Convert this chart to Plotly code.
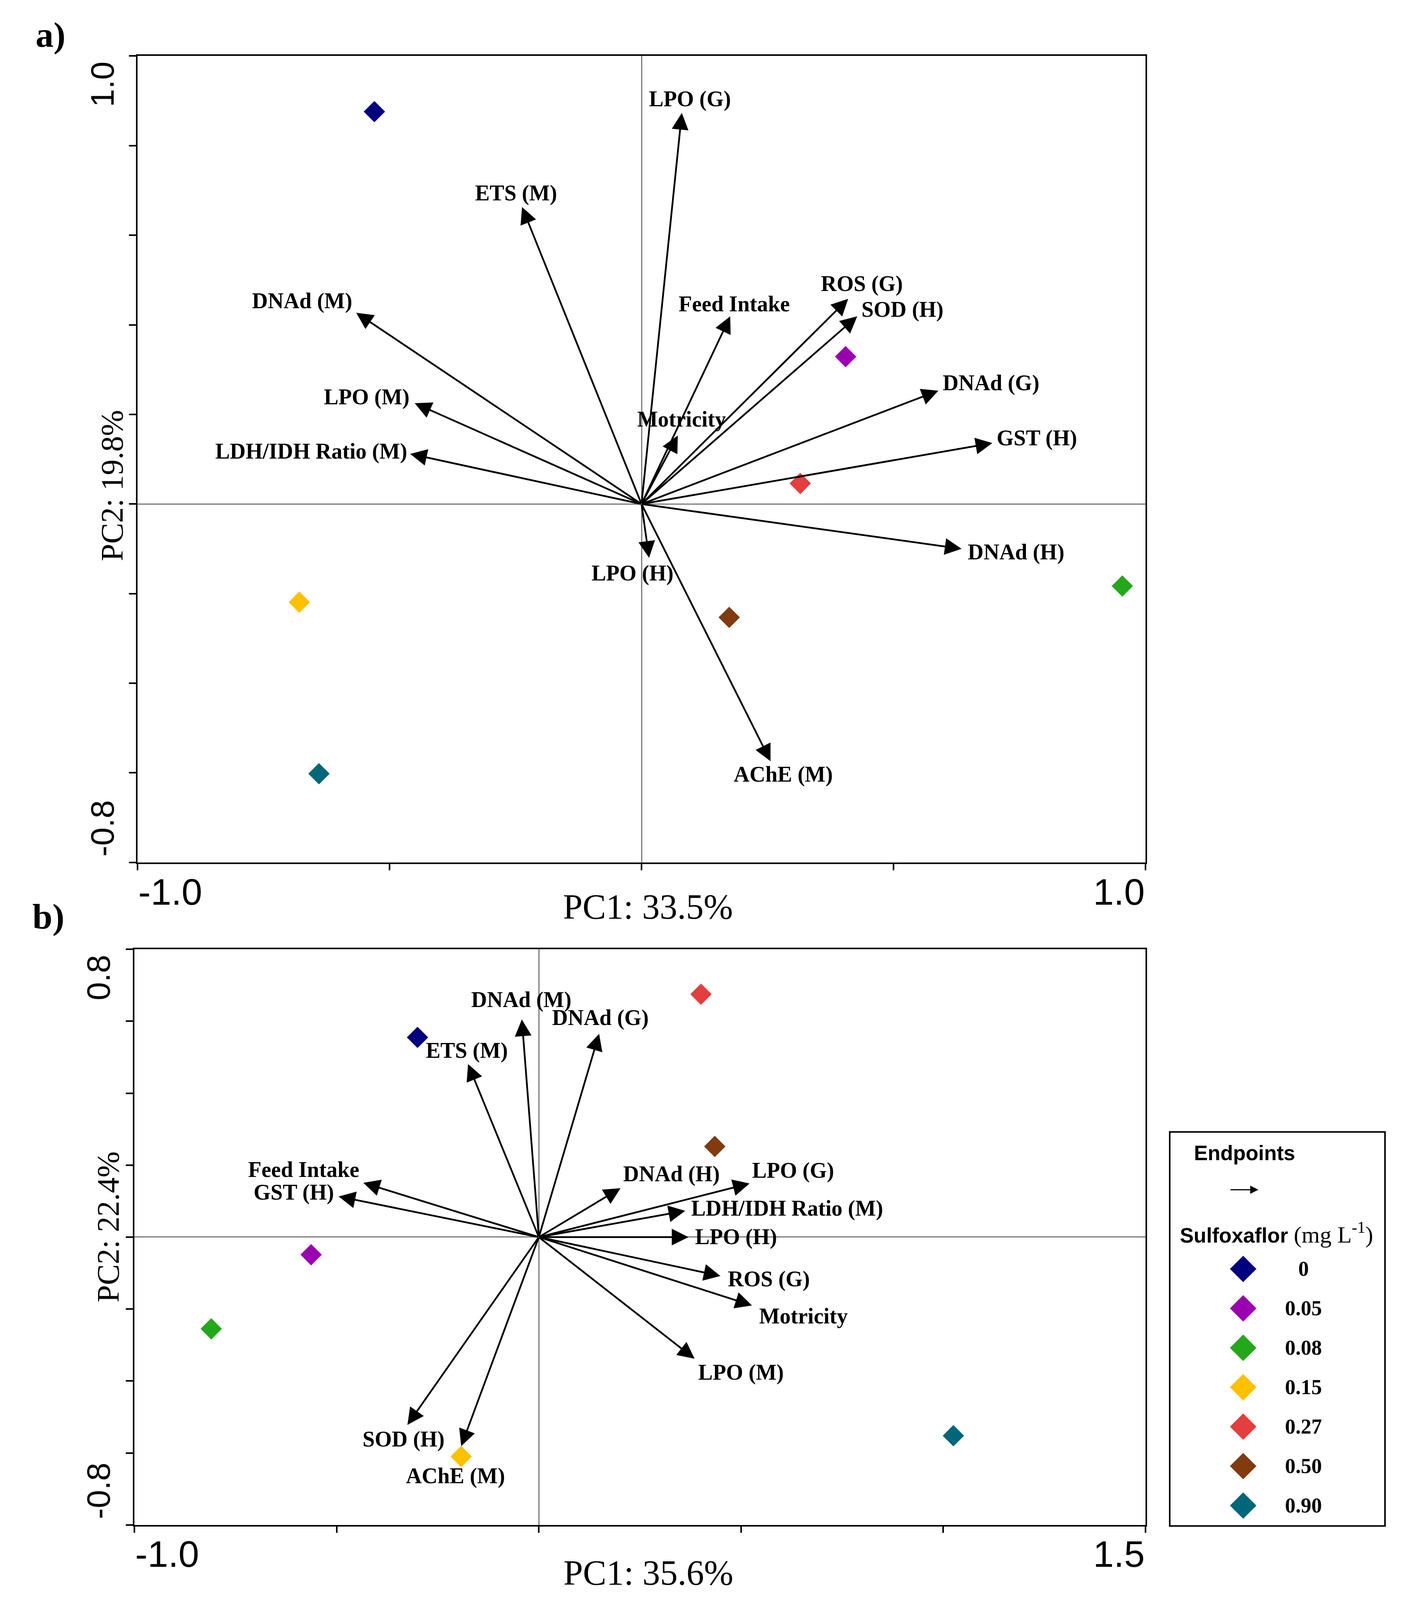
import plotly.graph_objects as go

# The page viewport is 3609 x 4096; the figure fills it.  Vertical positions measured on
# the 3609 x 4625 reference are scaled by S.
W, H = 3609, 4096
REF_H = 4625
S = H / REF_H

# ---------------- data ----------------
doses = ["0", "0.05", "0.08", "0.15", "0.27", "0.50", "0.90"]
dose_colors = ["#00007F", "#9A00B0", "#24A81B", "#FFC000", "#E43E3E", "#823A0F", "#006679"]

# Panel a: treatment scores (PC1, PC2)
a_pc1 = [-0.530, 0.405, 0.954, -0.679, 0.315, 0.174, -0.640]
a_pc2 = [0.876, 0.329, -0.183, -0.219, 0.046, -0.253, -0.602]

# Panel a: endpoint loadings
a_names = ["LPO (G)", "ETS (M)", "DNAd (M)", "LPO (M)", "LDH/IDH Ratio (M)", "Motricity",
           "Feed Intake", "ROS (G)", "SOD (H)", "DNAd (G)", "GST (H)", "DNAd (H)",
           "LPO (H)", "AChE (M)"]
a_load1 = [0.080, -0.237, -0.566, -0.450, -0.459, 0.072, 0.176, 0.410, 0.428, 0.589,
           0.696, 0.635, 0.015, 0.256]
a_load2 = [0.873, 0.663, 0.427, 0.225, 0.112, 0.153, 0.419, 0.458, 0.419, 0.253,
           0.136, -0.100, -0.120, -0.574]

# Panel b: treatment scores
b_pc1 = [-0.300, -0.563, -0.810, -0.192, 0.401, 0.435, 1.025]
b_pc2 = [0.555, -0.049, -0.255, -0.610, 0.675, 0.252, -0.552]

# Panel b: endpoint loadings
b_names = ["DNAd (M)", "DNAd (G)", "ETS (M)", "Feed Intake", "GST (H)", "SOD (H)",
           "AChE (M)", "DNAd (H)", "LPO (G)", "LDH/IDH Ratio (M)", "LPO (H)", "ROS (G)",
           "Motricity", "LPO (M)"]
b_load1 = [-0.042, 0.149, -0.175, -0.434, -0.495, -0.325, -0.192, 0.202, 0.521, 0.362,
           0.370, 0.449, 0.527, 0.385]
b_load2 = [0.605, 0.565, 0.481, 0.151, 0.113, -0.522, -0.581, 0.136, 0.149, 0.073,
           0.000, -0.108, -0.190, -0.338]

a_xtitle, a_ytitle = "PC1: 33.5%", "PC2: 19.8%"
b_xtitle, b_ytitle = "PC1: 35.6%", "PC2: 22.4%"

# ---------------- label placement (style) ----------------
# anchor, x-shift px, y-shift px (up positive, reference px), relative to the arrow tip
a_label_pos = {
    "LPO (G)": ("center", 21, 40),
    "ETS (M)": ("center", -15, 40),
    "DNAd (M)": ("right", -8, 34),
    "LPO (M)": ("right", -12, 18),
    "LDH/IDH Ratio (M)": ("right", -5, 7),
    "Motricity": ("center", 10, 47),
    "Feed Intake": ("center", 10, 36),
    "ROS (G)": ("center", 35, 43),
    "SOD (H)": ("left", 9, 19),
    "DNAd (G)": ("left", 9, 22),
    "GST (H)": ("left", 9, 15),
    "DNAd (H)": ("left", 14, -9),
    "LPO (H)": ("center", -42, -45),
    "AChE (M)": ("center", 33, -38),
}
b_label_pos = {
    "DNAd (M)": ("center", -1, 57),
    "DNAd (G)": ("center", 3, 46),
    "ETS (M)": ("center", -3, 39),
    "Feed Intake": ("right", -8, 38),
    "GST (H)": ("right", -10, 12),
    "SOD (H)": ("center", -10, -42),
    "AChE (M)": ("center", -14, -86),
    "DNAd (H)": ("left", 5, 41),
    "LPO (G)": ("left", 4, 38),
    "LDH/IDH Ratio (M)": ("left", 13, 7),
    "LPO (H)": ("left", 15, 0),
    "ROS (G)": ("left", 17, -9),
    "Motricity": ("left", 16, -30),
    "LPO (M)": ("left", 7, -40),
}

SERIF = "Liberation Serif"
SANS = "Liberation Sans"
LBL_FONT = dict(family=SERIF, size=56, color="black")

fig = go.Figure()

for xs, ys, xa, ya in [(a_pc1, a_pc2, "x", "y"), (b_pc1, b_pc2, "x2", "y2")]:
    fig.add_trace(go.Scatter(
        x=xs, y=ys, mode="markers", xaxis=xa, yaxis=ya, showlegend=False,
        marker=dict(symbol="diamond", size=42, color=dose_colors, line=dict(width=0)),
        text=doses, hoverinfo="text"))

annotations = []


def add_biplot(names, l1, l2, pos, xa, ya):
    for n, vx, vy in zip(names, l1, l2):
        annotations.append(dict(
            x=vx, y=vy, ax=0, ay=0, xref=xa, yref=ya, axref=xa, ayref=ya,
            text="", showarrow=True, arrowhead=2, arrowsize=1.9, arrowwidth=4.5,
            arrowcolor="black", standoff=0, startstandoff=0))
        anc, dx, dy = pos[n]
        annotations.append(dict(
            x=vx, y=vy, xref=xa, yref=ya, text="<b>%s</b>" % n, showarrow=False,
            xanchor=anc, yanchor="middle", xshift=dx, yshift=dy * S, font=LBL_FONT))


add_biplot(a_names, a_load1, a_load2, a_label_pos, "x", "y")
add_biplot(b_names, b_load1, b_load2, b_label_pos, "x2", "y2")

TICK_FONT = dict(family=SANS, size=95, color="black")
TICK_FONT_ROT = dict(family=SANS, size=round(95 * S), color="black")
TITLE_FONT = dict(family=SERIF, size=90, color="black")
TITLE_FONT_ROT = dict(family=SERIF, size=round(90 * S), color="black")


def axis_labels(xa, ya, xr, yr, xt, yt, xt_shift, xt_dy, yt_shift, ylab_dx, xlab_dy):
    # y end labels (rotated), aligned to the ends of the axis
    annotations.append(dict(x=xr[0], y=yr[1], xref=xa, yref=ya, text="%.1f" % yr[1],
                            showarrow=False, textangle=-90, xanchor="center", yanchor="top",
                            xshift=ylab_dx, yshift=-14 * S, font=TICK_FONT_ROT))
    annotations.append(dict(x=xr[0], y=yr[0], xref=xa, yref=ya, text="%.1f" % yr[0],
                            showarrow=False, textangle=-90, xanchor="center", yanchor="bottom",
                            xshift=ylab_dx, yshift=14 * S, font=TICK_FONT_ROT))
    # x end labels
    annotations.append(dict(x=xr[0], y=yr[0], xref=xa, yref=ya, text="%.1f" % xr[0],
                            showarrow=False, xanchor="left", yanchor="middle",
                            yshift=-xlab_dy * S, font=TICK_FONT))
    annotations.append(dict(x=xr[1], y=yr[0], xref=xa, yref=ya, text="%.1f" % xr[1],
                            showarrow=False, xanchor="right", yanchor="middle",
                            yshift=-xlab_dy * S, font=TICK_FONT))
    # axis titles
    annotations.append(dict(x=0, y=yr[0], xref=xa, yref=ya, text=xt, showarrow=False,
                            xanchor="center", yanchor="middle", xshift=xt_shift,
                            yshift=-xt_dy * S, font=TITLE_FONT))
    annotations.append(dict(x=xr[0], y=0, xref=xa, yref=ya, text=yt, showarrow=False,
                            textangle=-90, xanchor="center", yanchor="middle",
                            xshift=ylab_dx + 25, yshift=yt_shift * S, font=TITLE_FONT_ROT))


axis_labels("x", "y", [-1.0, 1.0], [-0.8, 1.0], a_xtitle, a_ytitle, 16, 128, 53, -90, 85)
axis_labels("x2", "y2", [-1.0, 1.5], [-0.8, 0.8], b_xtitle, b_ytitle, 280, 138, 29, -92, 84)

PANEL_FONT = dict(family=SERIF, size=92, color="black")
annotations.append(dict(x=129 / W, y=1 - 100 / REF_H, xref="paper", yref="paper",
                        text="<b>a)</b>", showarrow=False, xanchor="center",
                        yanchor="middle", font=PANEL_FONT))
annotations.append(dict(x=124 / W, y=1 - 2649 / REF_H, xref="paper", yref="paper",
                        text="<b>b)</b>", showarrow=False, xanchor="center",
                        yanchor="middle", font=PANEL_FONT))

# ---------------- custom legend (axes x3/y3, reference-px units inside the box) ----------
LEG_W, LEG_H = 551, 1139
row0, row_step = 396, 114
leg_rows = [row0 + i * row_step for i in range(len(doses))]
fig.add_trace(go.Scatter(
    x=[188] * len(doses), y=leg_rows, mode="markers", xaxis="x3", yaxis="y3",
    showlegend=False, hoverinfo="skip",
    marker=dict(symbol="diamond", size=52, color=dose_colors, line=dict(width=0))))
for d, ry in zip(doses, leg_rows):
    annotations.append(dict(x=342, y=ry, xref="x3", yref="y3", text="<b>%s</b>" % d,
                            showarrow=False, xanchor="center", yanchor="middle",
                            font=dict(family=SERIF, size=54, color="black")))
annotations.append(dict(x=191, y=61, xref="x3", yref="y3", text="<b>Endpoints</b>",
                        showarrow=False, xanchor="center", yanchor="middle",
                        font=dict(family=SANS, size=53, color="black")))
annotations.append(dict(x=227, y=167, ax=154, ay=167, xref="x3", yref="y3", axref="x3",
                        ayref="y3", text="", showarrow=True, arrowhead=2, arrowsize=1.4,
                        arrowwidth=3, arrowcolor="black", standoff=0, startstandoff=0))
annotations.append(dict(x=273, y=292, xref="x3", yref="y3",
                        text="<b>Sulfoxaflor</b> <span style=\"font-family:'Liberation Serif'; font-size:60px\">(mg L<sup>-1</sup>)</span>",
                        showarrow=False, xanchor="center", yanchor="middle",
                        font=dict(family=SANS, size=53, color="black")))

shapes = [dict(type="rect", xref="x3 domain", yref="y3 domain", x0=0, x1=1, y0=0, y1=1,
               line=dict(color="black", width=4), fillcolor="rgba(0,0,0,0)")]


def main_axis(domain, rng, dtick, anchor, ticklen):
    return dict(domain=domain, range=rng, anchor=anchor, tickmode="linear", tick0=rng[0],
                dtick=dtick, showticklabels=False, ticks="outside", ticklen=ticklen,
                tickwidth=4, tickcolor="black", showline=True, linecolor="black",
                linewidth=4, mirror=True, showgrid=False, zeroline=True,
                zerolinecolor="#7a7a7a", zerolinewidth=3, fixedrange=True)


fig.update_layout(
    width=W, height=H, margin=dict(l=0, r=0, t=0, b=0),
    paper_bgcolor="white", plot_bgcolor="white", showlegend=False,
    xaxis=main_axis([352 / W, 2932 / W], [-1.0, 1.0], 0.5, "y", 16),
    yaxis=main_axis([1 - 2493 / REF_H, 1 - 162 / REF_H], [-0.8, 1.0], 0.2, "x", 18),
    xaxis2=main_axis([344 / W, 2932 / W], [-1.0, 1.5], 0.5, "y2", 16),
    yaxis2=main_axis([1 - 4408 / REF_H, 1 - 2744 / REF_H], [-0.8, 0.8], 0.2, "x2", 18),
    xaxis3=dict(domain=[2994 / W, 3545 / W], range=[0, LEG_W], anchor="y3", visible=False,
                fixedrange=True),
    yaxis3=dict(domain=[1 - 4411 / REF_H, 1 - 3272 / REF_H], range=[LEG_H, 0], anchor="x3",
                visible=False, fixedrange=True),
    annotations=annotations, shapes=shapes,
)

fig.write_html("out.html", config={"displayModeBar": False},
               post_script="document.body.style.margin='0';")
